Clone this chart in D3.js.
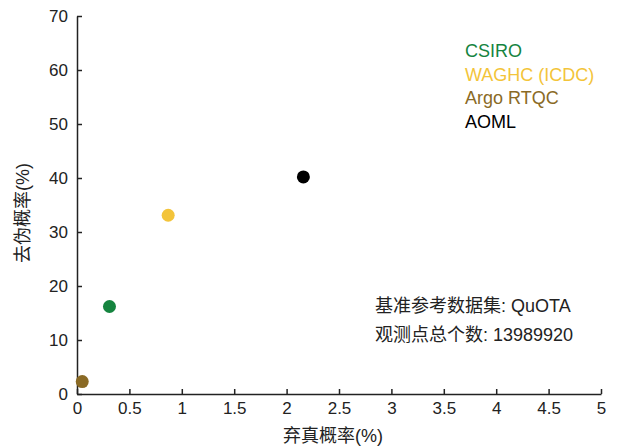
<!DOCTYPE html>
<html>
<head>
<meta charset="utf-8">
<script src="https://cdn.jsdelivr.net/npm/d3@7"></script>
<style>
  body { margin: 0; background: #fff; }
  svg text { font-family: "Liberation Sans", Arial, "Noto Sans CJK SC", sans-serif; fill: #222; }
</style>
</head>
<body>
<div id="chart"></div>
<script>
// data
var names = ["CSIRO", "WAGHC (ICDC)", "Argo RTQC", "AOML"];
var rejectRate = [0.31, 0.87, 0.05, 2.16];   // 弃真概率 (%)
var falseRate = [16.2, 33.1, 2.3, 40.2];     // 去伪概率 (%)
var colors = ["#15843f", "#f3c43a", "#8a6a25", "#000000"];
var xTicks = [0, 0.5, 1, 1.5, 2, 2.5, 3, 3.5, 4, 4.5, 5];
var yTicks = [0, 10, 20, 30, 40, 50, 60, 70];
var notes = ["基准参考数据集: QuOTA", "观测点总个数: 13989920"];

var svgWidth = 618, svgHeight = 446,
    margin = { top: 16, right: 17, bottom: 52, left: 77 },
    width = svgWidth - margin.left - margin.right,
    height = svgHeight - margin.top - margin.bottom;

var svg = d3.select("#chart").append("svg")
    .attr("width", svgWidth)
    .attr("height", svgHeight);
var g = svg.append("g")
    .attr("transform", "translate(" + margin.left + "," + margin.top + ")");

var x = d3.scaleLinear().domain([0, 5]).range([0, width]);
var y = d3.scaleLinear().domain([0, 70]).range([height, 0]);

var xAxis = g.append("g")
    .attr("transform", "translate(0," + height + ")")
    .call(d3.axisBottom(x).tickValues(xTicks).tickFormat(d3.format("")).tickSizeInner(-5).tickSizeOuter(0).tickPadding(8));
var yAxis = g.append("g")
    .call(d3.axisLeft(y).tickValues(yTicks).tickSizeInner(-5).tickSizeOuter(0).tickPadding(9));

[xAxis, yAxis].forEach(function (a) {
  a.select(".domain").attr("stroke", "#222").attr("stroke-width", 1.5);
  a.selectAll(".tick line").attr("stroke", "#222").attr("stroke-width", 1.5);
  a.selectAll(".tick text").attr("font-size", 17).attr("fill", "#222")
    .style("font-family", "Liberation Sans, Arial, sans-serif");
});

// points
g.selectAll(".pt")
    .data(names)
    .enter().append("circle")
    .attr("class", "pt")
    .attr("cx", function (d, i) { return x(rejectRate[i]); })
    .attr("cy", function (d, i) { return y(falseRate[i]); })
    .attr("r", 6.5)
    .attr("fill", function (d, i) { return colors[i]; });

// legend
g.selectAll(".leg")
    .data(names)
    .enter().append("text")
    .attr("x", 388)
    .attr("y", function (d, i) { return 41 + i * 23.7; })
    .attr("font-size", 18)
    .style("fill", function (d, i) { return colors[i]; })
    .text(function (d) { return d; });

// notes
g.selectAll(".note")
    .data(notes)
    .enter().append("text")
    .attr("x", 298)
    .attr("y", function (d, i) { return 296 + i * 29; })
    .attr("font-size", 18)
    .style("font-family", "Liberation Sans, Noto Sans CJK SC, sans-serif")
    .text(function (d) { return d; });

// axis titles
svg.append("text")
    .attr("x", margin.left + width / 2 - 6)
    .attr("y", 442)
    .attr("text-anchor", "middle")
    .attr("font-size", 18)
    .style("font-family", "Liberation Sans, Noto Sans CJK SC, sans-serif")
    .text("弃真概率(%)");
svg.append("text")
    .attr("transform", "translate(29,213) rotate(-90)")
    .attr("text-anchor", "middle")
    .attr("font-size", 18)
    .style("font-family", "Liberation Sans, Noto Sans CJK SC, sans-serif")
    .text("去伪概率(%)");
</script>
</body>
</html>
